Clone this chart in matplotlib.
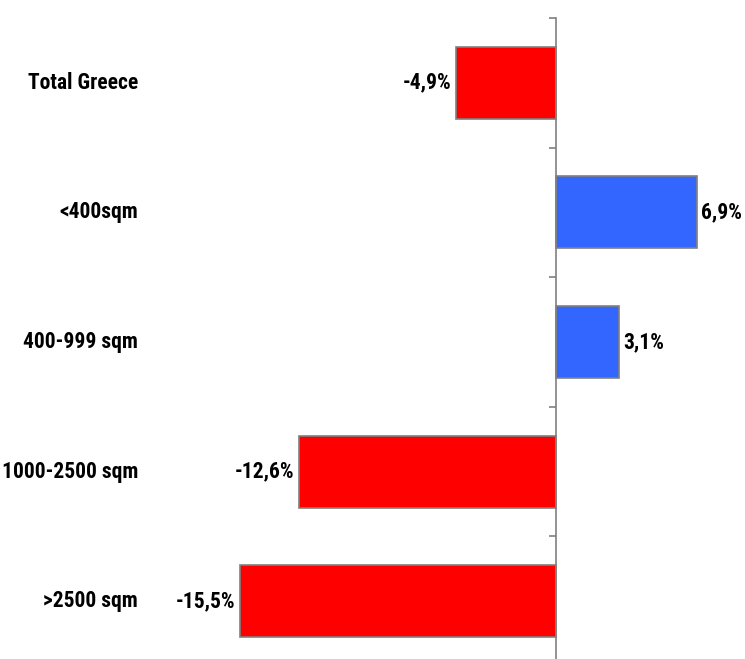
import matplotlib.pyplot as plt
import matplotlib.transforms as mtransforms
import numpy as np

# data
categories = ['Total Greece', '<400sqm', '400-999 sqm', '1000-2500 sqm', '>2500 sqm']
values = [-4.9, 6.9, 3.1, -12.6, -15.5]
value_labels = ['-4,9%', '6,9%', '3,1%', '-12,6%', '-15,5%']

plt.rcParams['font.family'] = ['Roboto Condensed', 'DejaVu Sans']

W, H = 745, 659
fig = plt.figure(figsize=(W / 100, H / 100), dpi=100)

# axes placed in pixel terms: zero line at x=556, ~20.3 px per %
ppu = 20.4
x0 = 556
xmin, xmax = -16, 8
left = x0 + xmin * ppu
top, bottom = 18, 666
ax = fig.add_axes([left / W, 1 - bottom / H, (xmax - xmin) * ppu / W, (bottom - top) / H])

y = np.arange(len(categories))
colors = ['#FF0000' if v < 0 else '#3366FF' for v in values]
ax.barh(y, values, height=0.555, color=colors, edgecolor='#808080', linewidth=1.2, zorder=2)

ax.set_xlim(xmin, xmax)
ax.set_ylim(len(categories) - 0.5, -0.5)

for s in ['top', 'right', 'bottom']:
    ax.spines[s].set_visible(False)
ax.spines['left'].set_position(('data', 0))
ax.spines['left'].set_color('#808080')
ax.spines['left'].set_linewidth(1.2)
ax.set_xticks([])
ax.set_yticks(np.arange(len(categories) + 1) - 0.5)
ax.set_yticklabels([])
ax.tick_params(axis='y', direction='out', length=5, width=1.2, color='#808080')

# value labels
for yi, v, lab in zip(y, values, value_labels):
    if v < 0:
        ax.text(v - 0.22, yi, lab, ha='right', va='center', fontsize=15.5, fontweight='bold')
    else:
        ax.text(v + 0.2, yi, lab, ha='left', va='center', fontsize=15.5, fontweight='bold')

# category labels on the left
trans = mtransforms.blended_transform_factory(fig.transFigure, ax.transData)
for yi, cat in zip(y, categories):
    ax.text(138 / W, yi, cat, transform=trans,
            ha='right', va='center', fontsize=15.5, fontweight='bold', clip_on=False)

fig.savefig('out.png', dpi=100)
